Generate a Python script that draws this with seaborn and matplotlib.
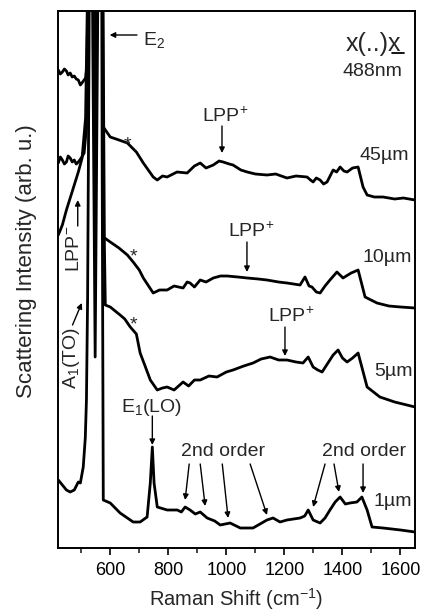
import matplotlib
matplotlib.use("Agg")
import matplotlib.pyplot as plt
import seaborn as sns
import pandas as pd

# ---------------- data (Raman shift in cm^-1, intensity in arb. u., offset spectra) -------------
s45_x = [421, 428, 435, 442, 449, 455, 462, 469, 476, 483, 490, 497, 505, 515, 522, 528, 533, 540,
         548, 556, 566, 572, 576, 600, 630, 659, 690, 714, 748, 762, 780, 796, 830, 865, 890, 910,
         930, 955, 975, 989, 1010, 1023, 1050, 1072, 1100, 1140, 1170, 1209, 1240, 1278, 1290,
         1299, 1310, 1323, 1335, 1347, 1368, 1380, 1392, 1405, 1416, 1435, 1454, 1471, 1485, 1510,
         1540, 1580, 1610, 1650]
s45_y = [478, 474, 476, 479, 477, 473, 475, 471, 472, 469, 468, 463, 466, 470, 490, 700, 900, 700,
         470, 700, 900, 700, 421, 411, 408, 405, 396, 385, 371, 368, 372, 371, 376, 375, 382, 385,
         380, 383, 387, 386, 384, 383, 378, 376, 374, 373, 374, 370, 372, 371, 368,
         366, 370, 368, 364, 366, 378, 376, 381, 377, 376, 380, 381, 361, 353, 351,
         351, 349, 350, 348]

s10_x = [421, 428, 435, 442, 449, 455, 462, 469, 476, 483, 490, 500, 510, 518, 524, 532, 540, 548,
         556, 566, 572, 576, 600, 630, 659, 679, 700, 714, 748, 770, 796, 820, 851, 865, 875,
         890, 910, 930, 955, 980, 1003, 1040, 1072, 1110, 1140, 1180, 1209, 1254, 1271, 1285,
         1295, 1310, 1323, 1340, 1357, 1381, 1402, 1430, 1454, 1478, 1519, 1560, 1600, 1650]
s10_y = [385, 391, 388, 384, 386, 392, 390, 386, 388, 384, 386, 390, 395, 420, 600, 900, 600, 300,
         600, 900, 600, 311, 306, 300, 293, 286, 278, 270, 255, 258, 258, 262, 260, 266, 265,
         261, 268, 266, 270, 272, 272, 271, 270, 269, 268, 266, 265, 263, 271, 262,
         261, 256, 255, 262, 268, 276, 270, 275, 278, 251, 245, 242, 241, 240]

s5_x = [421, 435, 449, 462, 476, 490, 503, 515, 524, 532, 540, 548, 556, 566, 574, 580, 583,
        600, 634, 650, 669, 690, 703, 720, 738, 762, 780, 796, 820, 851, 870, 890, 910, 940, 968,
        1000, 1023, 1060, 1092, 1120, 1151, 1180, 1209, 1240, 1264, 1282, 1299, 1315, 1330, 1350,
        1368, 1385, 1400, 1416, 1435, 1454, 1485, 1529, 1580, 1650]
s5_y = [313, 323, 338, 350, 363, 376, 390, 430, 600, 900, 500, 191, 500, 900, 600, 300, 243,
        241, 233, 229, 221, 214, 195, 182, 168, 158, 160, 161, 158, 166, 162, 168, 168, 172, 171,
        176, 178, 182, 185, 189, 191, 188, 188, 186, 185, 191, 181, 178, 176, 185,
        193, 198, 190, 186, 190, 195, 161, 151, 146, 141]

s1_x = [421, 435, 449, 462, 476, 490, 497, 507, 514, 518, 522, 527, 532, 540, 550, 560, 568, 572,
        576, 600, 634, 679, 703, 727, 738, 745, 751, 762, 796, 831, 845, 858, 875, 893, 910, 934,
        960, 979, 1013, 1048, 1092, 1140, 1161, 1185, 1209, 1254, 1270, 1282, 1299, 1323, 1340,
        1357, 1375, 1392, 1410, 1426, 1450, 1467, 1485, 1502, 1540, 1600, 1650]
s1_y = [68, 63, 58, 56, 58, 66, 65, 81, 110, 148, 250, 500, 900, 700, 430, 700, 900, 400,
        48, 45, 35, 26, 26, 31, 65, 101, 65, 41, 38, 38, 36, 41, 38, 34, 36, 30,
        27, 23, 25, 20, 20, 28, 30, 26, 28, 30, 32, 38, 28, 25, 30,
        38, 46, 51, 44, 45, 46, 51, 38, 21, 20, 18, 16]

sample_labels = ["45µm", "10µm", "5µm", "1µm"]
x_ticks = [600, 800, 1000, 1200, 1400, 1600]
x_minor = [500, 700, 900, 1100, 1300, 1500]

# ---------------- style -------------
sns.set_theme(style="ticks")
plt.rcParams["font.family"] = ["Liberation Sans", "DejaVu Sans"]
plt.rcParams["mathtext.fontset"] = "custom"
plt.rcParams["mathtext.rm"] = "Liberation Sans"
plt.rcParams["mathtext.it"] = "Liberation Sans:italic"
plt.rcParams["mathtext.bf"] = "Liberation Sans:bold"

fig = plt.figure(figsize=(4.27, 6.12), dpi=100)
ax = fig.add_axes([58 / 427, 64 / 612, 357 / 427, 537 / 612])

spectra = [(s45_x, s45_y), (s10_x, s10_y), (s5_x, s5_y), (s1_x, s1_y)]
for (sx, sy), lab in zip(spectra, sample_labels):
    df = pd.DataFrame({"shift": sx, "intensity": sy})
    sns.lineplot(data=df, x="shift", y="intensity", ax=ax, color="black", lw=2.0,
                 estimator=None, sort=False)

ax.set_xlim(420, 1650)
ax.set_ylim(0, 537)
ax.set_yticks([])
ax.set_xticks(x_ticks)
ax.set_xticks(x_minor, minor=True)
ax.tick_params(axis="x", which="major", direction="out", length=5, width=1.2, labelsize=13,
               pad=5, colors="black")
ax.tick_params(axis="x", which="minor", direction="out", length=3.5, width=1.2)
for sp in ax.spines.values():
    sp.set_visible(True)
    sp.set_linewidth(1.4)
    sp.set_color("black")

ax.set_xlabel("Raman Shift (cm$^{-1}$)", fontsize=14.5, labelpad=5)
ax.set_ylabel("Scattering Intensity (arb. u.)", fontsize=16)
ax.yaxis.set_label_coords(-0.058, 0.535)

arrow = dict(arrowstyle="-|>", color="black", lw=1.0, mutation_scale=8, shrinkA=0, shrinkB=0)
fs = 14

# E2
ax.annotate("", xy=(598, 513), xytext=(692, 513), arrowprops=arrow)
ax.text(712, 508, "E$_2$", fontsize=fs, ha="left", va="center")

# scattering geometry
ax.text(1508, 504, "x(..)x", fontsize=18, ha="center", va="center")
ax.annotate("", xy=(1571, 495), xytext=(1612, 495),
            arrowprops=dict(arrowstyle="-", color="black", lw=1.3, shrinkA=0, shrinkB=0))
ax.text(1505, 476, "488nm", fontsize=fs, ha="center", va="center")

# sample labels
ax.text(1545, 392, "45µm", fontsize=fs, ha="center", va="center")
ax.text(1555, 290, "10µm", fontsize=fs, ha="center", va="center")
ax.text(1575, 176, "5µm", fontsize=fs, ha="center", va="center")
ax.text(1575, 46, "1µm", fontsize=fs, ha="center", va="center")

# LPP+ markers
for tx, ty, ax0, ay0, ay1 in [(996, 432, 985, 422, 395),
                              (1085, 317, 1071, 306, 276),
                              (1223, 232, 1202, 221, 192)]:
    ax.text(tx, ty, "LPP$^{+}$", fontsize=fs, ha="center", va="center")
    ax.annotate("", xy=(ax0, ay1), xytext=(ax0, ay0), arrowprops=arrow)

# asterisks
for sx_, sy_ in [(659, 403), (679, 291), (679, 223)]:
    ax.text(sx_, sy_, "*", fontsize=14, ha="center", va="center")

# E1(LO)
ax.text(741, 141, "E$_1$(LO)", fontsize=fs, ha="center", va="center")
ax.annotate("", xy=(745, 103), xytext=(745, 132), arrowprops=arrow)

# 2nd order
ax.text(989, 96, "2nd order", fontsize=fs, ha="center", va="center")
for (x0, x1, y1) in [(872, 858, 48), (910, 927, 42), (986, 1006, 30), (1082, 1140, 33)]:
    ax.annotate("", xy=(x1, y1), xytext=(x0, 84), arrowprops=arrow)
ax.text(1474, 96, "2nd order", fontsize=fs, ha="center", va="center")
for (x0, x1, y1) in [(1340, 1299, 41), (1371, 1388, 56), (1471, 1471, 55)]:
    ax.annotate("", xy=(x1, y1), xytext=(x0, 84), arrowprops=arrow)

# A1(TO) and LPP-
ax.text(468, 190, "A$_1$(TO)", fontsize=fs, ha="center", va="center", rotation=90)
ax.annotate("", xy=(502, 245), xytext=(470, 223), arrowprops=arrow)
ax.text(478, 299, "LPP$^{-}$", fontsize=fs, ha="center", va="center", rotation=90)
ax.annotate("", xy=(488, 348), xytext=(488, 322), arrowprops=arrow)

fig.savefig("out.png", dpi=100)
